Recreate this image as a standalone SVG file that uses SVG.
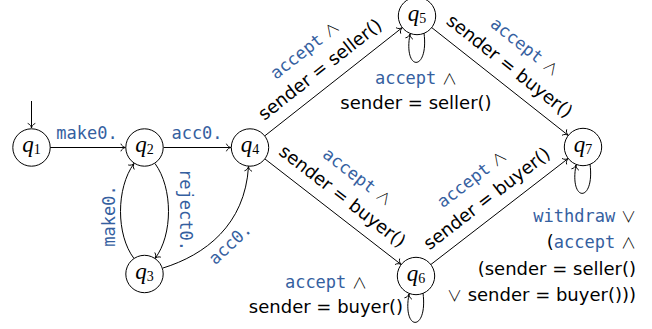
<svg xmlns="http://www.w3.org/2000/svg" width="652" height="329" viewBox="0 0 652 329">
<defs>
<marker id="arr" viewBox="-6 -5 8 10" refX="0" refY="0" markerWidth="8" markerHeight="10" orient="auto" markerUnits="userSpaceOnUse" overflow="visible">
<path d="M-4.6,-3.8 C-4,-1.6 -1.6,-0.3 0,0 C-1.6,0.3 -4,1.6 -4.6,3.8" fill="none" stroke="#000" stroke-width="0.9"/>
</marker>
<style>
.n circle{fill:#fff;stroke:#000;stroke-width:1}
.nl{font-family:"Liberation Serif",serif;text-anchor:middle;fill:#000}
.q{font-style:italic;font-size:23px}
.s{font-size:14px}
.e{fill:none;stroke:#000;stroke-width:1;marker-end:url(#arr)}
.b{font-family:"DejaVu Sans Mono",monospace;font-size:17px;fill:#35609f}
.k{font-family:"DejaVu Sans",sans-serif;font-size:18px;fill:#000}
.o{font-family:"Noto Sans CJK JP","DejaVu Sans",sans-serif;font-weight:300;font-size:15px}
.m{text-anchor:middle}
.r{text-anchor:end}
</style>
</defs>
<rect width="652" height="329" fill="#fff"/>
<g id="connectors">
<path class="e" d="M31.5,101 L31.5,128"/>
<path class="e" d="M50,147.5 L125.5,147.5"/>
<path class="e" d="M163.5,147.5 L231,147.5"/>
<path class="e" d="M134,258.5 C116,235 116,188 134,163.5"/>
<path class="e" d="M155,163.5 C173,188 173,235 155,258.5"/>
<path class="e" d="M163,268 C205,255 245,225 248.5,166.5"/>
<path class="e" d="M265,135.7 L402,27.8"/>
<path class="e" d="M265,159 L401,264.4"/>
<path class="e" d="M432,27.8 L568,135.2"/>
<path class="e" d="M431,264.4 L568,158.6"/>
<path class="e" d="M424,33 C429,72 403,72 410,34"/>
<path class="e" d="M423,293 C428,332 402,332 409,294"/>
<path class="e" d="M590,164 C595,203 569,203 576,165"/>
</g>
<g id="labels">
<text class="b m" x="87" y="139">make0.</text>
<text class="b m" x="197" y="139">acc0.</text>
<text class="b m" transform="translate(115,216) rotate(-90)">make0.</text>
<text class="b m" transform="translate(180,210) rotate(90)">reject0.</text>
<text class="b m" transform="translate(234,248) rotate(-43)">acc0.</text>
<g transform="translate(333.5,81.75) rotate(-38.2)">
<text class="k m" x="-3" y="-37"><tspan class="b">accept</tspan> <tspan class="o">∧</tspan></text>
<text class="k m" x="-3" y="-12">sender = seller()</text>
</g>
<g transform="translate(333,211.75) rotate(37.7)">
<text class="k m" x="-2" y="-37"><tspan class="b">accept</tspan> <tspan class="o">∧</tspan></text>
<text class="k m" x="-2" y="-12">sender = buyer()</text>
</g>
<g transform="translate(500,81.5) rotate(38.3)">
<text class="k m" x="-2" y="-37"><tspan class="b">accept</tspan> <tspan class="o">∧</tspan></text>
<text class="k m" x="-2" y="-12">sender = buyer()</text>
</g>
<g transform="translate(499.5,211.5) rotate(-37.7)">
<text class="k m" x="-2" y="-37"><tspan class="b">accept</tspan> <tspan class="o">∧</tspan></text>
<text class="k m" x="-2" y="-12">sender = buyer()</text>
</g>
<text class="k m" x="416" y="84"><tspan class="b">accept</tspan> <tspan class="o">∧</tspan></text>
<text class="k m" x="416" y="109">sender = seller()</text>
<text class="k m" x="326" y="288"><tspan class="b">accept</tspan> <tspan class="o">∧</tspan></text>
<text class="k m" x="326" y="313">sender = buyer()</text>
<text class="k r" x="636" y="222"><tspan class="b">withdraw</tspan> <tspan class="o">∨</tspan></text>
<text class="k r" x="636" y="248">(<tspan class="b">accept</tspan> <tspan class="o">∧</tspan></text>
<text class="k r" x="636" y="274.5">(sender = seller()</text>
<text class="k r" x="636" y="300.5"><tspan class="o">∨</tspan> sender = buyer()))</text>
</g>
<g id="q1" class="n"><circle cx="31.5" cy="147.5" r="18.7"/><text class="nl" x="31.5" y="152"><tspan class="q">q</tspan><tspan class="s" dy="2">1</tspan></text></g>
<g id="q2" class="n"><circle cx="144.5" cy="147.5" r="18.7"/><text class="nl" x="144.5" y="152"><tspan class="q">q</tspan><tspan class="s" dy="2">2</tspan></text></g>
<g id="q3" class="n"><circle cx="144.5" cy="274" r="18.7"/><text class="nl" x="144.5" y="278.5"><tspan class="q">q</tspan><tspan class="s" dy="2">3</tspan></text></g>
<g id="q4" class="n"><circle cx="250" cy="147.5" r="18.7"/><text class="nl" x="250" y="152"><tspan class="q">q</tspan><tspan class="s" dy="2">4</tspan></text></g>
<g id="q5" class="n"><circle cx="417" cy="16" r="18.7"/><text class="nl" x="417" y="20.5"><tspan class="q">q</tspan><tspan class="s" dy="2">5</tspan></text></g>
<g id="q6" class="n"><circle cx="416" cy="276" r="18.7"/><text class="nl" x="416" y="280.5"><tspan class="q">q</tspan><tspan class="s" dy="2">6</tspan></text></g>
<g id="q7" class="n"><circle cx="583" cy="147" r="18.7"/><text class="nl" x="583" y="151.5"><tspan class="q">q</tspan><tspan class="s" dy="2">7</tspan></text></g>
</svg>
